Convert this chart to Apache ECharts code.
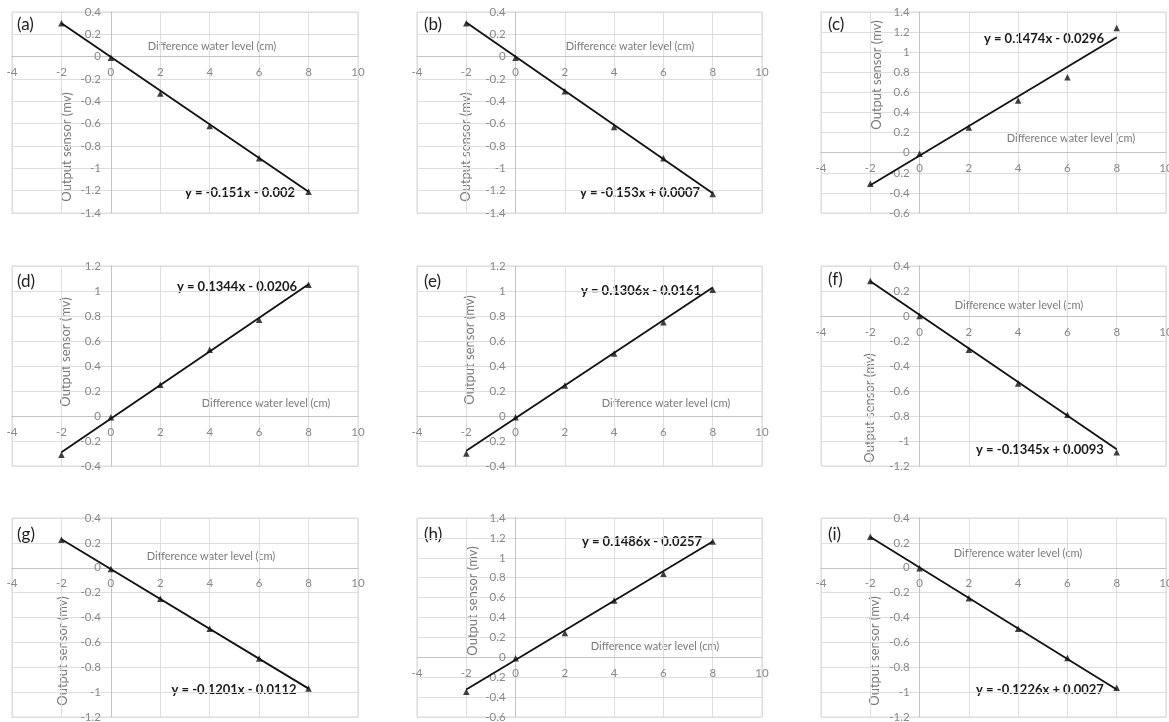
<!DOCTYPE html>
<html>
<head>
<meta charset="utf-8">
<script src="https://cdn.jsdelivr.net/npm/echarts@6/dist/echarts.min.js"></script>
<style>
  html, body { margin: 0; padding: 0; background: #fff; }
  #chartBox { width: 1169px; height: 722px; }
</style>
</head>
<body>
<div id="chartBox"></div>
<script>
// difference water level (cm), same for all nine panels
const xValues = [-2, 0, 2, 4, 6, 8];
const xMin = -4, xMax = 10, xStep = 2;

const panelNames = ['(a)', '(b)', '(c)', '(d)', '(e)', '(f)', '(g)', '(h)', '(i)'];

// output sensor (mv)
const sensorA = [0.30, -0.01, -0.33, -0.62, -0.91, -1.21];
const sensorB = [0.30, -0.01, -0.31, -0.63, -0.91, -1.23];
const sensorC = [-0.31, -0.01, 0.25, 0.52, 0.75, 1.24];
const sensorD = [-0.31, -0.01, 0.25, 0.53, 0.77, 1.05];
const sensorE = [-0.30, -0.01, 0.245, 0.50, 0.75, 1.01];
const sensorF = [0.28, 0.00, -0.27, -0.54, -0.79, -1.09];
const sensorG = [0.225, -0.01, -0.25, -0.49, -0.73, -0.97];
const sensorH = [-0.345, -0.01, 0.245, 0.57, 0.84, 1.165];
const sensorI = [0.25, -0.005, -0.245, -0.49, -0.725, -0.965];
const sensorSets = [sensorA, sensorB, sensorC, sensorD, sensorE, sensorF, sensorG, sensorH, sensorI];

// linear trendlines as printed in each panel
const trendSlopes = [-0.151, -0.153, 0.1474, 0.1344, 0.1306, -0.1345, -0.1201, 0.1486, -0.1226];
const trendIntercepts = [-0.002, 0.0007, -0.0296, -0.0206, -0.0161, 0.0093, -0.0112, -0.0257, 0.0027];
const equationLabels = [
  'y = -0.151x - 0.002', 'y = -0.153x + 0.0007', 'y = 0.1474x - 0.0296',
  'y = 0.1344x - 0.0206', 'y = 0.1306x - 0.0161', 'y = -0.1345x + 0.0093',
  'y = -0.1201x - 0.0112', 'y = 0.1486x - 0.0257', 'y = -0.1226x + 0.0027'
];

// y axis ranges (tick step 0.2)
const yMins = [-1.4, -1.4, -0.6, -0.4, -0.4, -1.2, -1.2, -0.6, -1.2];
const yMaxs = [0.4, 0.4, 1.4, 1.2, 1.2, 0.4, 0.4, 1.4, 0.4];

const xTitle = 'Difference water level (cm)';
const yTitle = 'Output sensor (mv)';

// layout
const colLeft = [12, 417, 821];
const colWidth = [346, 345, 345];
const rowTop = [12, 266, 518];
const rowHeight = [201, 200, 199];
const xTitlePos = [[212, 46], [630, 46], [1071, 138], [266, 403], [666, 403], [1019, 305], [211, 556], [655, 646], [1018, 553]];
const yTitlePos = [[67, 147], [466, 147], [877, 75], [66, 352], [470, 350], [870, 408], [63, 651], [473, 601], [875, 651]];
const eqPos = [[240, 193], [640, 193], [1044, 39], [237, 287], [641, 291], [1040, 450], [234, 690], [642, 542], [1040, 690]];
const namePos = [[17, 25], [424, 25], [828, 25], [17, 282], [424, 282], [828, 280], [17, 535], [424, 535], [828, 535]];

const FONT = 'Lato, "Open Sans", sans-serif';

let grid = [], xAxis = [], yAxis = [], series = [], graphic = [];

for (let i = 0; i < 9; i++) {
  const col = i % 3, row = Math.floor(i / 3);
  const w = colWidth[col], h = rowHeight[row];
  // axes cross at the origin, like the Excel originals:
  // shift each axis from the grid edge to the zero of the other one
  const xAxisShift = -h * (0 - yMins[i]) / (yMaxs[i] - yMins[i]);
  const yAxisShift = -w * (0 - xMin) / (xMax - xMin);

  grid.push({
    left: colLeft[col], top: rowTop[row], width: w, height: h,
    show: true, borderColor: '#d9d9d9', borderWidth: 1,
    containLabel: false, outerBoundsMode: 'none'
  });
  xAxis.push({
    type: 'value', gridIndex: i, min: xMin, max: xMax, interval: xStep,
    position: 'bottom', offset: xAxisShift,
    axisLine: { show: true, onZero: false, lineStyle: { color: '#c4c4c4', width: 1 } },
    axisTick: { show: false },
    axisLabel: { color: '#888', fontSize: 11.5, fontFamily: FONT, margin: 10 },
    splitLine: { lineStyle: { color: '#dedede', width: 1 } }
  });
  yAxis.push({
    type: 'value', gridIndex: i, min: yMins[i], max: yMaxs[i], interval: 0.2,
    position: 'left', offset: yAxisShift,
    axisLine: { show: true, onZero: false, lineStyle: { color: '#c4c4c4', width: 1 } },
    axisTick: { show: false },
    axisLabel: { color: '#888', fontSize: 11.5, fontFamily: FONT, margin: 10 },
    splitLine: { lineStyle: { color: '#dedede', width: 1 } }
  });

  const pts = xValues.map((x, k) => [x, sensorSets[i][k]]);
  const x0 = xValues[0], x1 = xValues[xValues.length - 1];
  const trend = [
    [x0, trendSlopes[i] * x0 + trendIntercepts[i]],
    [x1, trendSlopes[i] * x1 + trendIntercepts[i]]
  ];
  series.push({
    type: 'line', xAxisIndex: i, yAxisIndex: i, data: trend,
    showSymbol: false, silent: true,
    lineStyle: { color: '#111', width: 1.8 }
  });
  series.push({
    type: 'scatter', xAxisIndex: i, yAxisIndex: i, data: pts,
    symbol: 'triangle', symbolSize: 6.5,
    itemStyle: { color: '#111' }, z: 3
  });

  graphic.push({
    type: 'text', x: namePos[i][0], y: namePos[i][1],
    style: { text: panelNames[i], fill: '#222', font: '17px ' + FONT, textAlign: 'left', textVerticalAlign: 'middle', align: 'left', verticalAlign: 'middle' }
  });
  graphic.push({
    type: 'text', x: xTitlePos[i][0], y: xTitlePos[i][1],
    style: { text: xTitle, fill: '#7a7a7a', font: '11px ' + FONT, textAlign: 'center', textVerticalAlign: 'middle', align: 'center', verticalAlign: 'middle' }
  });
  graphic.push({
    type: 'text', x: yTitlePos[i][0], y: yTitlePos[i][1], rotation: Math.PI / 2,
    style: { text: yTitle, fill: '#7a7a7a', font: '13px ' + FONT, textAlign: 'center', textVerticalAlign: 'middle', align: 'center', verticalAlign: 'middle' }
  });
  graphic.push({
    type: 'text', x: eqPos[i][0], y: eqPos[i][1],
    style: { text: equationLabels[i], fill: '#1a1a1a', font: 'bold 13px ' + FONT, textAlign: 'center', textVerticalAlign: 'middle', align: 'center', verticalAlign: 'middle' }
  });
}

const option = {
  backgroundColor: '#fff',
  animation: false,
  grid: grid,
  xAxis: xAxis,
  yAxis: yAxis,
  series: series,
  graphic: graphic
};

const myChart = echarts.init(document.getElementById('chartBox'));
myChart.setOption(option);
</script>
</body>
</html>
